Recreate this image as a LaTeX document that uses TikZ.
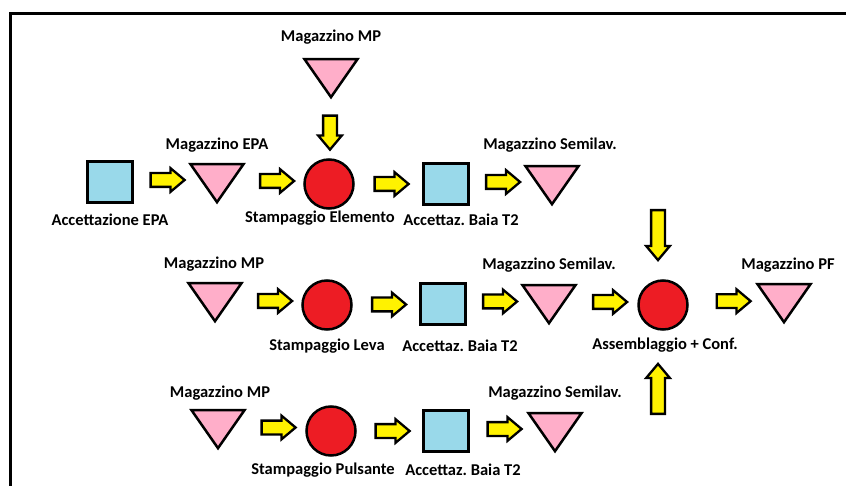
\documentclass[tikz,border=0pt]{standalone}
\usepackage{fontspec}
\setmainfont{Carlito}
\usetikzlibrary{positioning, shapes.geometric, shapes.arrows, calc}
\definecolor{bayblue}{HTML}{99D9EA}
\definecolor{storepink}{HTML}{FFAEC9}
\definecolor{procred}{HTML}{ED1C24}
\definecolor{flowyellow}{HTML}{FFF200}

\begin{document}
\begin{tikzpicture}[x=1pt, y=-1pt,
    bay/.style={draw, line width=2.5pt, fill=bayblue, inner sep=0pt, minimum width=45pt, minimum height=41pt},
    store/.style={draw, line width=2.5pt, fill=storepink, inner sep=0pt, isosceles triangle, isosceles triangle stretches, shape border rotate=270, minimum width=53pt, minimum height=38pt},
    proc/.style={draw, line width=2.5pt, fill=procred, circle, inner sep=0pt, minimum size=49pt},
    blockarr/.style={draw, line width=2.3pt, fill=flowyellow, single arrow, single arrow head extend=5pt, single arrow tip angle=80, inner sep=0pt, minimum height=34pt, text height=11.5pt, text depth=0pt, text width=0pt},
    lbl/.style={inner sep=0pt, font=\fontsize{16.5}{18}\selectfont\bfseries\frenchspacing}]
    \useasboundingbox (0,0) rectangle (846,486);
    % frame
    \draw[line width=3pt] (10.5,486) -- (10.5,13.5) -- (846,13.5);
    % warehouses
    \foreach \n/\x/\y in {mpA/331/73, epa/217/178, semiA/552/180, mpB/215/297, semiB/549/299, pf/784/298, mpC/218/424, semiC/555/427} {
        \node[store] (\n) at (\x,\y) {};
    }
    % acceptance bays
    \foreach \n/\x/\y in {epaIn/110/182, bayA/446/184, bayB/443/304, bayC/446/431} {
        \node[bay] (\n) at (\x,\y) {};
    }
    % processes
    \foreach \n/\x/\y in {elem/329/184, leva/327/305, puls/331/431, assy/663/305} {
        \node[proc] (\n) at (\x,\y) {};
    }
    % labels
    \foreach \x/\y/\t [count=\i] in {331/37/Magazzino MP, 217/145/Magazzino EPA, 110/220/Accettazione EPA,
        320/218/Stampaggio Elemento, 461/220/Accettaz. Baia T2, 550/145/Magazzino Semilav.,
        214/264/Magazzino MP, 327/346/Stampaggio Leva, 460/346/Accettaz. Baia T2,
        549/265/Magazzino Semilav., 665/345/Assemblaggio + Conf., 788/265/Magazzino PF,
        220/393/Magazzino MP, 323/470/Stampaggio Pulsante, 463/470/Accettaz. Baia T2,
        555/393/Magazzino Semilav.} {
        \node[lbl] (lbl\i) at (\x,\y) {\t};
    }
    % flow arrows
    \foreach \a/\b in {epaIn/epa, epa/elem, elem/bayA, bayA/semiA, mpB/leva, leva/bayB, bayB/semiB,
        semiB/assy, mpC/puls, puls/bayC, bayC/semiC} {
        \node[blockarr] at ($(\a)!0.5!(\b)$) {};
    }
    \node[blockarr] (toPF) at ($(assy)!0.55!(pf)$) {};
    \node[blockarr, rotate=-90] (mpIn) at ($(mpA)!0.5!(elem)$) {};
    % inflows to assembly
    \node[blockarr, rotate=-90, minimum height=50pt] (inTop) at (658,231) {};
    \node[blockarr, rotate=90, minimum height=50pt] (inBot) at (658,393) {};
\end{tikzpicture}
\end{document}
